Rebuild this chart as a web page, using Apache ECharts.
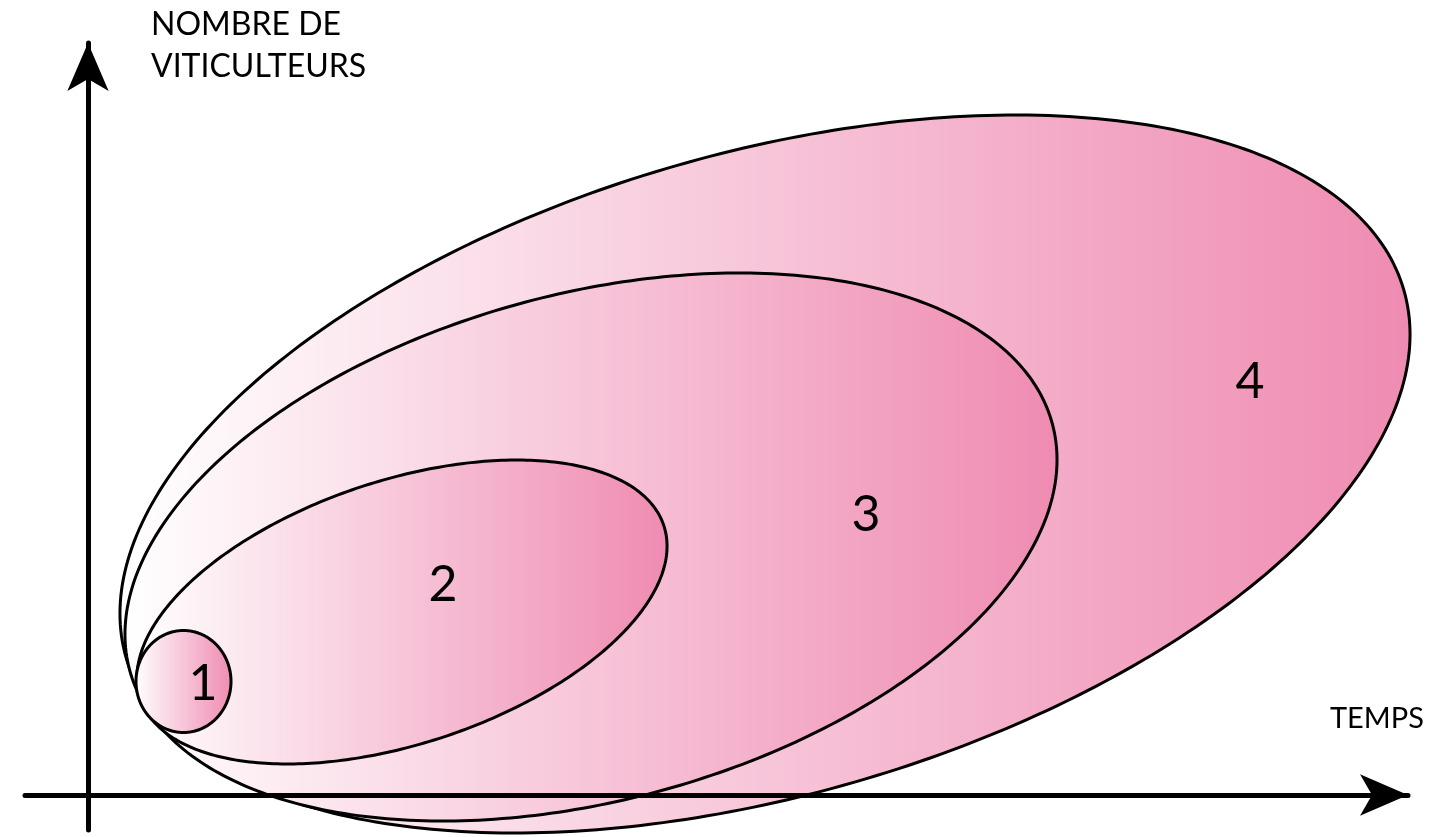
<!DOCTYPE html>
<html><head><meta charset="utf-8">
<script src="https://cdn.jsdelivr.net/npm/echarts@6/dist/echarts.min.js"></script>
<style>html,body{margin:0;padding:0;background:#fff}#c{width:1451px;height:837px}</style>
</head><body><div id="c"></div>
<script>
// Stages of the diagram (1 = smallest, 4 = largest)
const stageNames = ['1', '2', '3', '4'];
// Ellipse centres in axis units (x = temps, y = nombre de viticulteurs)
const centerX = [9.55, 31.4, 50.3, 67.7];
const centerY = [11.35, 18.3, 24.8, 32.1];
// Semi-axes (axis units) and tilt (degrees, counter-clockwise)
const semiMajor = [4.75, 27.57, 47.75, 66.48];
const semiMinor = [5.1, 13.17, 25.35, 32.09];
const tiltDeg = [0, 18.25, 14.9, 16.04];
// Label anchor positions (axis units)
const labelX = [11.5, 35.5, 77.8, 116.2];
const labelY = [11.1, 21.0, 28.0, 41.3];
// Axis titles
const xAxisTitle = 'TEMPS';
const yAxisTitle = 'NOMBRE DE\nVITICULTEURS';
// Axis extents
const xRange = [-6.3, 132.0];
const yRange = [-3.5, 75.2];

const FONT = 'Lato, "Open Sans", sans-serif';
const PINK = '#EF8BB2';

const chart = echarts.init(document.getElementById('c'), null, {renderer: 'canvas'});

// draw largest first so smaller stages sit on top
const order = [3, 2, 1, 0];
const ellipseData = order.map(i => [centerX[i], centerY[i], semiMajor[i], semiMinor[i], tiltDeg[i]]);
const labelData = stageNames.map((n, i) => [labelX[i], labelY[i]]);

const axisCommon = {
  type: 'value',
  z: 5,
  axisLine: {
    onZero: true,
    symbol: ['none', 'arrow'],
    symbolSize: [31, 48],
    lineStyle: {color: '#000', width: 5}
  },
  axisTick: {show: false},
  axisLabel: {show: false},
  splitLine: {show: false}
};

chart.setOption({
  animation: false,
  backgroundColor: '#fff',
  title: [
    {text: yAxisTitle, left: 151, top: 4, padding: 0,
     textStyle: {fontFamily: FONT, fontSize: 32, fontWeight: 'normal', lineHeight: 42, color: '#000'}},
    {text: xAxisTitle, left: 1330, top: 704, padding: 0,
     textStyle: {fontFamily: FONT, fontSize: 29, fontWeight: 'normal', color: '#000'}}
  ],
  grid: {left: 25, right: 43, top: 43, bottom: 7},
  xAxis: Object.assign({}, axisCommon, {min: xRange[0], max: xRange[1]}),
  yAxis: Object.assign({}, axisCommon, {min: yRange[0], max: yRange[1]}),
  series: [
    {
      type: 'custom',
      clip: false,
      z: 2,
      data: ellipseData,
      renderItem: function (params, api) {
        const cx = api.value(0), cy = api.value(1);
        const a = api.value(2), b = api.value(3);
        const th = api.value(4) * Math.PI / 180;
        const pts = [];
        const N = 360;
        for (let k = 0; k < N; k++) {
          const t = k / N * 2 * Math.PI;
          const x = cx + a * Math.cos(t) * Math.cos(th) - b * Math.sin(t) * Math.sin(th);
          const y = cy + a * Math.cos(t) * Math.sin(th) + b * Math.sin(t) * Math.cos(th);
          pts.push(api.coord([x, y]));
        }
        return {
          type: 'polygon',
          shape: {points: pts},
          style: {
            fill: {type: 'linear', x: 0, y: 0, x2: 1, y2: 0,
                   colorStops: [{offset: 0, color: '#ffffff'}, {offset: 1, color: PINK}]},
            stroke: '#000',
            lineWidth: 3
          }
        };
      }
    },
    {
      type: 'custom',
      clip: false,
      z: 6,
      data: labelData,
      renderItem: function (params, api) {
        const p = api.coord([api.value(0), api.value(1)]);
        return {
          type: 'text',
          x: p[0], y: p[1],
          style: {text: stageNames[params.dataIndex], fontFamily: FONT, fontSize: 50,
                  fill: '#000', align: 'center', verticalAlign: 'middle'}
        };
      }
    }
  ]
});
</script></body></html>
